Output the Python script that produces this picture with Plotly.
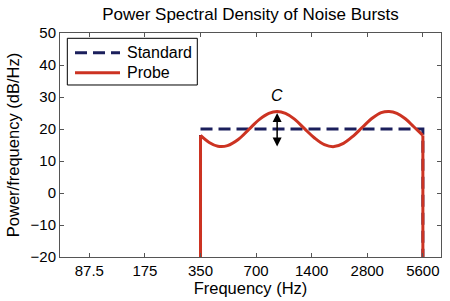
import numpy as np
import plotly.graph_objects as go

# Data
std_freq = [350, 350, 5600, 5600]
std_db = [-25, 20, 20, -25]

probe_freq = [350, 390, 435, 490, 560, 640, 730, 820, 910, 1010, 1130, 1280, 1450,
              1640, 1850, 2080, 2350, 2650, 3000, 3330, 3675, 4050, 4500, 5000, 5600]
probe_db = [18.0, 15.8, 14.6, 14.8, 16.7, 19.9, 23.0, 24.9, 25.5, 24.9, 23.1, 20.1, 17.2,
            15.1, 14.5, 15.5, 17.8, 20.7, 23.5, 25.1, 25.5, 24.9, 23.2, 20.7, 18.0]
edge_low = -25

tick_vals = [87.5, 175, 350, 700, 1400, 2800, 5600]
tick_text = ["87.5", "175", "350", "700", "1400", "2800", "5600"]
y_ticks = [-20, -10, 0, 10, 20, 30, 40, 50]

series_names = ["Standard", "Probe"]

c_freq = 910
c_top = 25.5
c_bot = 14.5

RED = "#cc3322"
NAVY = "#1b1f5c"
DASH = "12px,6px"
FONT = "Liberation Sans, Arial, sans-serif"

fig = go.Figure()
fig.add_trace(go.Scatter(x=std_freq, y=std_db, mode="lines", name=series_names[0],
                         showlegend=False,
                         line=dict(color=NAVY, width=3, dash=DASH)))
fig.add_trace(go.Scatter(x=[probe_freq[0], probe_freq[0]], y=[edge_low, probe_db[0]],
                         mode="lines", showlegend=False,
                         line=dict(color=RED, width=3)))
fig.add_trace(go.Scatter(x=[probe_freq[-1], probe_freq[-1]], y=[probe_db[-1], edge_low],
                         mode="lines", showlegend=False,
                         line=dict(color=RED, width=3)))
fig.add_trace(go.Scatter(x=probe_freq, y=probe_db, mode="lines", name=series_names[1],
                         showlegend=False,
                         line=dict(color=RED, width=3, shape="spline", smoothing=1)))

fig.add_annotation(x=np.log10(c_freq), y=c_bot, ax=np.log10(c_freq), ay=c_top,
                   xref="x", yref="y", axref="x", ayref="y", text="",
                   showarrow=True, arrowhead=2, startarrowhead=2, arrowside="end+start",
                   arrowsize=1.2, arrowwidth=1.5, arrowcolor="black")
fig.add_annotation(x=np.log10(c_freq), y=c_top + 1.6, xref="x", yref="y",
                   text="<i>C</i>", showarrow=False, yanchor="bottom",
                   font=dict(size=16, color="black", family=FONT))

# Legend box drawn manually (matches the compact MATLAB legend)
fig.add_shape(type="rect", xref="paper", yref="paper",
              x0=0.0192, x1=0.3604, y0=0.7679, y1=0.9763,
              line=dict(color="black", width=1), fillcolor="white", layer="above")
leg_y = [0.912, 0.8228]
leg_styles = [dict(color=NAVY, width=3, dash=DASH), dict(color=RED, width=3)]
for name, yy, st in zip(series_names, leg_y, leg_styles):
    fig.add_shape(type="line", xref="paper", yref="paper",
                  x0=0.0394, x1=0.1575, y0=yy, y1=yy, line=st, layer="above")
    fig.add_annotation(x=0.1706, y=yy, xref="paper", yref="paper", text=name,
                       showarrow=False, xanchor="left", yanchor="middle",
                       font=dict(size=16, color="black", family=FONT))

fig.update_layout(
    width=450, height=301,
    margin=dict(l=60, r=9, t=33, b=44),
    paper_bgcolor="white", plot_bgcolor="white",
    font=dict(family=FONT, size=15, color="black"),
    title=dict(text="Power Spectral Density of Noise Bursts", x=0.5, xref="paper",
               y=0.953, yanchor="middle", font=dict(size=17)),
    showlegend=False,
)
fig.update_xaxes(type="log", range=[np.log10(60.7), np.log10(7020)],
                 tickvals=tick_vals, ticktext=tick_text, automargin=False,
                 showline=True, mirror="ticks", linecolor="#555555", linewidth=1,
                 ticks="inside", ticklen=4, tickcolor="#555555",
                 showgrid=False, zeroline=False,
                 title=dict(text="Frequency (Hz)", standoff=4, font=dict(size=16.5)))
fig.update_yaxes(range=[-20, 50], tickvals=y_ticks, automargin=False,
                 showline=True, mirror="ticks", linecolor="#555555", linewidth=1,
                 ticks="inside", ticklen=4, tickcolor="#555555",
                 showgrid=False, zeroline=False,
                 title=dict(text="Power/frequency (dB/Hz)", standoff=6, font=dict(size=16.5)))

fig.write_html("out.html")
